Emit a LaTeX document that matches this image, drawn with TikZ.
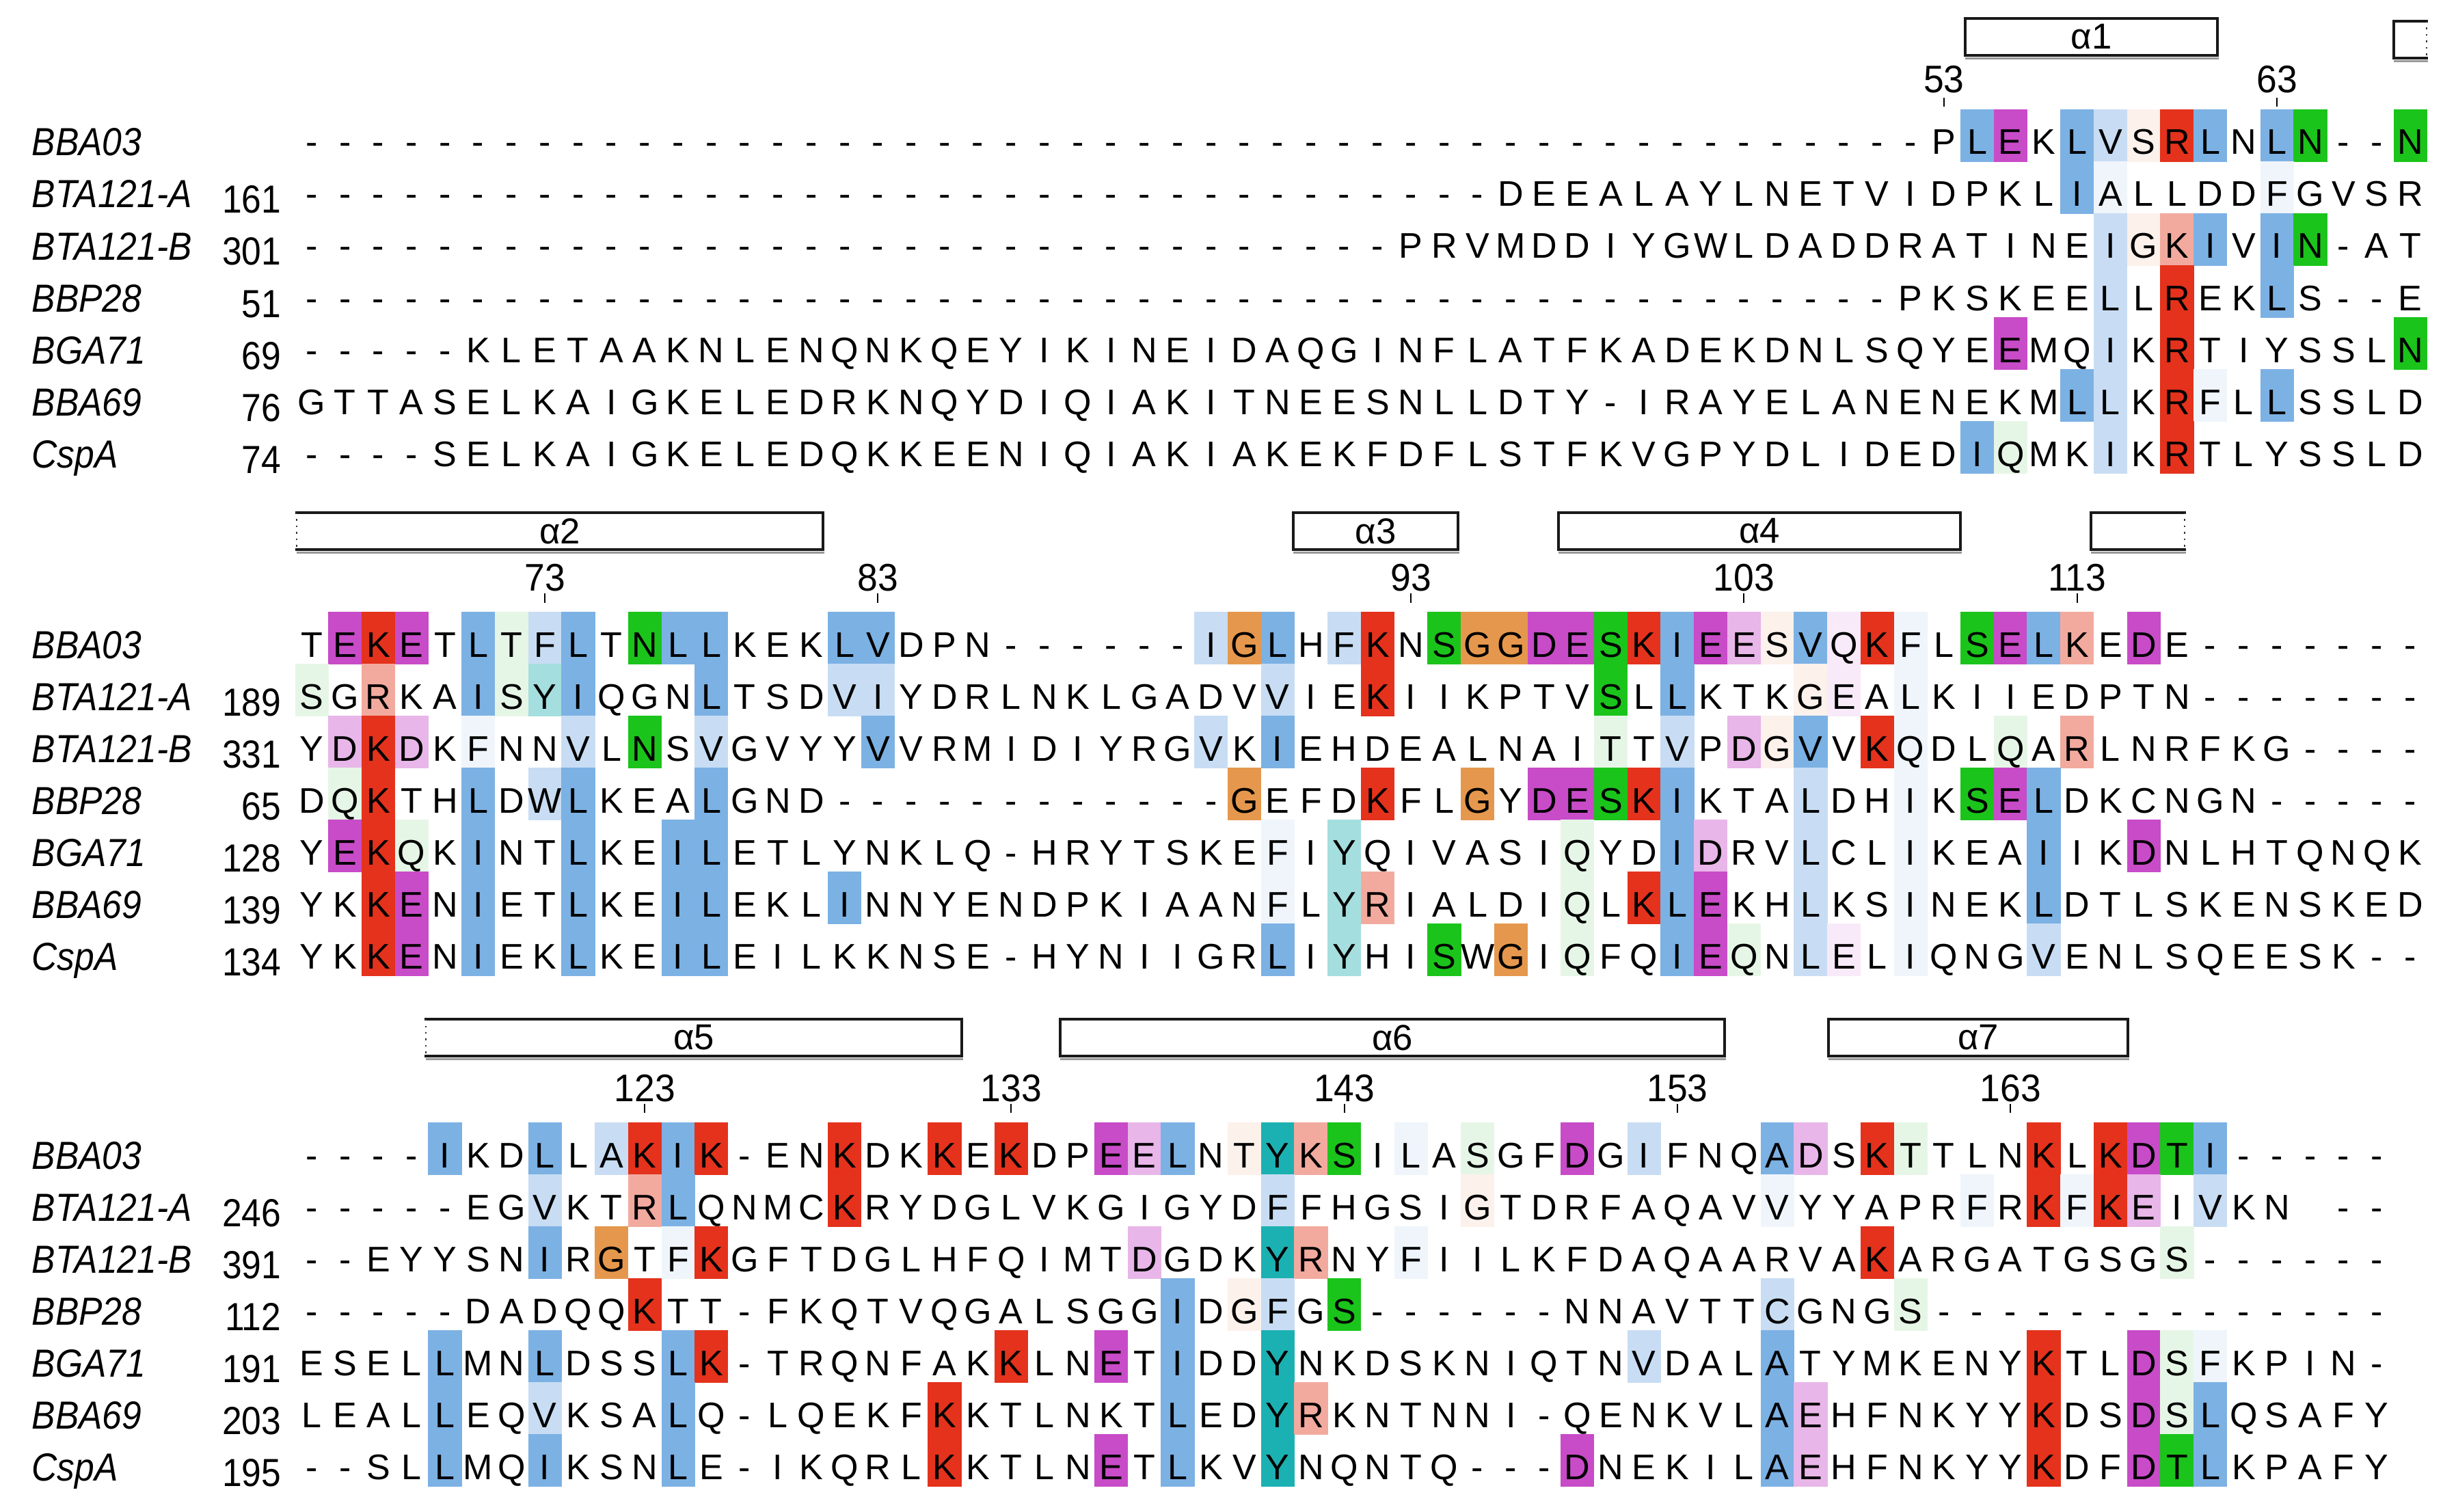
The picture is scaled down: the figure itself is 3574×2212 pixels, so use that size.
\documentclass[tikz,border=0pt]{standalone}
\usepackage{fontspec}
\setmainfont{Liberation Sans}
\usepackage{graphicx}
\definecolor{colR}{RGB}{228,50,28}
\definecolor{colr}{RGB}{242,170,158}
\definecolor{colM}{RGB}{200,75,200}
\definecolor{colm}{RGB}{232,182,232}
\definecolor{colp}{RGB}{248,234,248}
\definecolor{colB}{RGB}{124,177,228}
\definecolor{colb}{RGB}{200,221,243}
\definecolor{colc}{RGB}{239,245,251}
\definecolor{colG}{RGB}{27,196,27}
\definecolor{colg}{RGB}{230,246,230}
\definecolor{colO}{RGB}{229,152,77}
\definecolor{colo}{RGB}{252,241,235}
\definecolor{colT}{RGB}{27,177,178}
\definecolor{colt}{RGB}{165,222,222}
\tikzset{
 seqlet/.style={anchor=base, inner sep=0pt, font=\fontsize{14.8}{16}\selectfont},
 seqname/.style={anchor=base west, inner sep=0pt, font=\fontsize{16.3}{18}\selectfont\itshape},
 seqnum/.style={anchor=base east, inner sep=0pt, font=\fontsize{16.3}{18}\selectfont},
 posnum/.style={anchor=base, inner sep=0pt, font=\fontsize{16}{18}\selectfont},
 helixline/.style={draw=black!90, line width=1.35pt, line cap=rect},
 helixshadow/.style={draw=black!40, line width=1.1pt},
 dotedge/.style={draw=black!80, line width=0.7pt, dotted},
 helixlab/.style={inner sep=0pt, font=\fontsize{15}{18}\selectfont},
 tickmark/.style={draw=black, line width=0.6pt},
}
\newcount\seqcol
\def\seqfilliter#1{\ifx#1\relax\else
  \if#1.\else\fill[fill=col#1] ({431.5+48.73*\the\seqcol},\seqtop) rectangle ++(49.2,76.6);\fi
  \advance\seqcol by 1\relax
  \expandafter\seqfilliter\fi}
\def\seqletiter#1{\ifx#1\relax\else
  \if#1*\else\node[seqlet] (\seqid-\the\seqcol) at ({456+48.73*\the\seqcol},\seqbase) {#1};\fi
  \advance\seqcol by 1\relax
  \expandafter\seqletiter\fi}
% #1 top, #2 id, #3 name, #4 number, #5 letters, #6 colours
\newcommand\seqrow[6]{%
  \def\seqtop{#1}\seqcol=0 \seqfilliter#6\relax
  \pgfmathsetmacro\seqbase{#1+66}\def\seqid{#2}\seqcol=0 \seqletiter#5\relax
  \pgfmathsetmacro\seqnb{#1+68}\node[seqname] (#2-name) at (46,\seqnb) {\scalebox{0.9}[1]{#3}};
  \if\relax\detokenize{#4}\relax\else
  \pgfmathsetmacro\seqnn{#1+76}\node[seqnum] (#2-num) at (412,\seqnn) {\scalebox{0.9}[1]{#4}};\fi
}
% #1 id, #2 x1, #3 x2, #4 y1, #5 y2, #6 label, #7 left style, #8 right style
\newcommand\helix[8]{%
  \draw[helixshadow] (#2,#5+4.5) -- (#3+2,#5+4.5);
  \draw[helixline] (#2,#4) -- (#3,#4) (#2,#5) -- (#3,#5);
  \draw[#7] (#2,#4) -- (#2,#5);
  \draw[#8] (#3,#4) -- (#3,#5);
  \if\relax\detokenize{#6}\relax\else
  \node[helixlab] (#1) at ({(#2+#3)/2},{(#4+#5)/2}) {#6};\fi
}
% #1 id, #2 column, #3 text, #4 baseline, #5 tick top, #6 tick bottom
\newcommand\posmark[6]{%
  \pgfmathsetmacro\pmx{456+48.73*#2}
  \node[posnum] (#1) at (\pmx,#4) {\scalebox{0.95}[1]{#3}};
  \draw[tickmark] (\pmx,#5) -- (\pmx,#6);
}
\begin{document}
\begin{tikzpicture}[x=0.01cm, y=-0.01cm]
\useasboundingbox (0,0) rectangle (3574,2212);
\fill[white] (0,0) rectangle (3574,2212);

% ---------------- block 1 ----------------
\helix{h1}{2875}{3244}{27}{81}{α1}{helixline}{helixline}
\helix{h1b}{3502}{3550}{31}{85}{}{helixline}{dotedge}
\posmark{p53}{49}{53}{136}{143}{156}
\posmark{p63}{59}{63}{136}{143}{156}

\seqrow{160}{a1}{BBA03}{}%
 {---------- ---------- ---------- ---------- ---------P LEKLVSRLNL N--N}%
 {.......... .......... .......... .......... .......... BM.BboRB.B G..G}
\seqrow{236}{a2}{BTA121-A}{161}%
 {---------- ---------- ---------- ------DEEA LAYLNETVID PKLIALLDDF GVSR}%
 {.......... .......... .......... .......... .......... ...Bc....c ....}
\seqrow{312}{a3}{BTA121-B}{301}%
 {---------- ---------- ---------- ---PRVMDDI YGWLDADDRA TINEIGKIVI N-AT}%
 {.......... .......... .......... .......... .......... ....borB.B G...}
\seqrow{388}{a4}{BBP28}{51}%
 {---------- ---------- ---------- ---------- --------PK SKEELLREKL S--E}%
 {.......... .......... .......... .......... .......... ....b.R..B ....}
\seqrow{464}{a5}{BGA71}{69}%
 {-----KLETA AKNLENQNKQ EYIKINEIDA QGINFLATFK ADEKDNLSQY EEMQIKRTIY SSLN}%
 {.......... .......... .......... .......... .......... .M..b.R... ...G}
\seqrow{540}{a6}{BBA69}{76}%
 {GTTASELKAI GKELEDRKNQ YDIQIAKITN EESNLLDTY- IRAYELANEN EKMLLKRFLL SSLD}%
 {.......... .......... .......... .......... .......... ...Bb.Rc.B ....}
\seqrow{616}{a7}{CspA}{74}%
 {----SELKAI GKELEDQKKE ENIQIAKIAK EKFDFLSTFK VGPYDLIDED IQMKIKRTLY SSLD}%
 {.......... .......... .......... .......... .......... Bg..b.R... ....}

% ---------------- block 2 ----------------
\helix{h2}{434}{1204}{750}{804}{α2}{dotedge}{helixline}
\helix{h3}{1892}{2133}{750}{804}{α3}{helixline}{helixline}
\helix{h4}{2280}{2868}{750}{804}{α4}{helixline}{helixline}
\helix{h4b}{3059}{3196}{750}{804}{}{helixline}{dotedge}
\posmark{p73}{7}{73}{864}{868}{882}
\posmark{p83}{17}{83}{864}{868}{882}
\posmark{p93}{33}{93}{864}{868}{882}
\posmark{p103}{43}{103}{864}{868}{882}
\posmark{p113}{53}{113}{864}{868}{882}

\seqrow{895}{b1}{BBA03}{}%
 {TEKETLTFLT NLLKEKLVDP N------IGL HFKNSGGDES KIEESVQKFL SELKEDE--- ----}%
 {.MRM.BgbB. GBB...BB.. .......bOB .bR.GOOMMG RBMmoBpRc. GMBr.M.... ....}
\seqrow{971}{b2}{BTA121-A}{189}%
 {SGRKAISYIQ GNLTSDVIYD RLNKLGADVV IEKIIKPTVS LLKTKGEALK IIEDPTN--- ----}%
 {g.r..BgtB. ..B...bb.. .........b ..R......G .B...op.c. .......... ....}
\seqrow{1047}{b3}{BTA121-B}{331}%
 {YDKDKFNNVL NSVGVYYVVR MIDIYRGVKI EHDEALNAIT TVPDGVVKQD LQARLNRFKG ----}%
 {.mRm.c..b. G.b....B.. .......b.B .........g .b.moB.Rc. .g.r...... ....}
\seqrow{1123}{b4}{BBP28}{65}%
 {DQKTHLDWLK EALGND---- --------GE FDKFLGYDES KIKTALDHIK SELDKCNGN- ----}%
 {.gR..B.bB. ..B....... ........O. ..R..O.MMG RB...b..c. GMB....... ....}
\seqrow{1199}{b5}{BGA71}{128}%
 {YEKQKINTLK EILETLYNKL Q-HRYTSKEF IYQIVASIQY DIDRVLCLIK EAIIKDNLHT QNQK}%
 {.MRg.B..B. .BB....... .........c .t......g. .Bm..b..c. ..B..M.... ....}
\seqrow{1275}{b6}{BBA69}{139}%
 {YKKENIETLK EILEKLINNY ENDPKIAANF LYRIALDIQL KLEKHLKSIN EKLDTLSKEN SKED}%
 {..RM.B..B. .BB...B... .........c .tr.....g. RBM..b..c. ..B....... ....}
\seqrow{1351}{b7}{CspA}{134}%
 {YKKENIEKLK EILEILKKNS E-HYNIIGRL IYHISWGIQF QIEQNLELIQ NGVENLSQEE SK--}%
 {..RM.B..B. .BB....... .........B .t..G.O.g. .BMg.bp.c. ..b....... ....}

% ---------------- block 3 ----------------
\helix{h5}{623}{1407}{1491}{1545}{α5}{dotedge}{helixline}
\helix{h6}{1551}{2523}{1491}{1545}{α6}{helixline}{helixline}
\helix{h7}{2675}{3113}{1491}{1545}{α7}{helixline}{helixline}
\posmark{p123}{10}{123}{1611}{1615}{1628}
\posmark{p133}{21}{133}{1611}{1615}{1628}
\posmark{p143}{31}{143}{1611}{1615}{1628}
\posmark{p153}{41}{153}{1611}{1615}{1628}
\posmark{p163}{51}{163}{1611}{1615}{1628}

\seqrow{1642}{c1}{BBA03}{}%
 {----IKDLLA KIK-ENKDKK EKDPEELNTY KSILASGFDG IFNQADSKTT LNKLKDTI-- ---}%
 {....B..B.b RBR...R..R .R..MmB.oT rG.c.g..M. b...Bm.Rg. ..R.RMGB.. ...}
\seqrow{1718}{c2}{BTA121-A}{246}%
 {-----EGVKT RLQNMCKRYD GLVKGIGYDF FHGSIGTDRF AQAVVYYAPR FRKFKEIVKN *--}%
 {.......b.. rB....R... .........b .....o.... ....c..... c.RcRm.b.. ...}
\seqrow{1794}{c3}{BTA121-B}{391}%
 {--EYYSNIRG TFKGFTDGLH FQIMTDGDKY RNYFIILKFD AQAARVAKAR GATGSGS--- ---}%
 {.......B.O .cR....... .....m...T r..c...... .......R.. ......g... ...}
\seqrow{1870}{c4}{BBP28}{112}%
 {-----DADQQ KTT-FKQTVQ GALSGGIDGF GS------NN AVTTCGNGS- ---------- ---}%
 {.......... R......... ......B.ob .G........ ....b...g. .......... ...}
\seqrow{1946}{c5}{BGA71}{191}%
 {ESELLMNLDS SLK-TRQNFA KKLNETIDDY NKDSKNIQTN VDALATYMKE NYKTLDSFKP IN-}%
 {....B..B.. .BR....... .R..M.B..T .......... b...B..... ..R..Mgc.. ...}
\seqrow{2022}{c6}{BBA69}{203}%
 {LEALLEQVKS ALQ-LQEKFK KTLNKTLEDY RKNTNNI-QE NKVLAEHFNK YYKDSDSLQS AFY}%
 {....B..b.. .B.......R ......B..T r......... ....Bm.... ..R..MgB.. ...}
\seqrow{2098}{c7}{CspA}{195}%
 {--SLLMQIKS NLE-IKQRLK KTLNETLKVY NQNTQ---DN EKILAEHFNK YYKDFDTLKP AFY}%
 {....B..B.. .B.......R ....M.B..T ........M. ....Bm.... ..R..MGB.. ...}
\end{tikzpicture}
\end{document}
